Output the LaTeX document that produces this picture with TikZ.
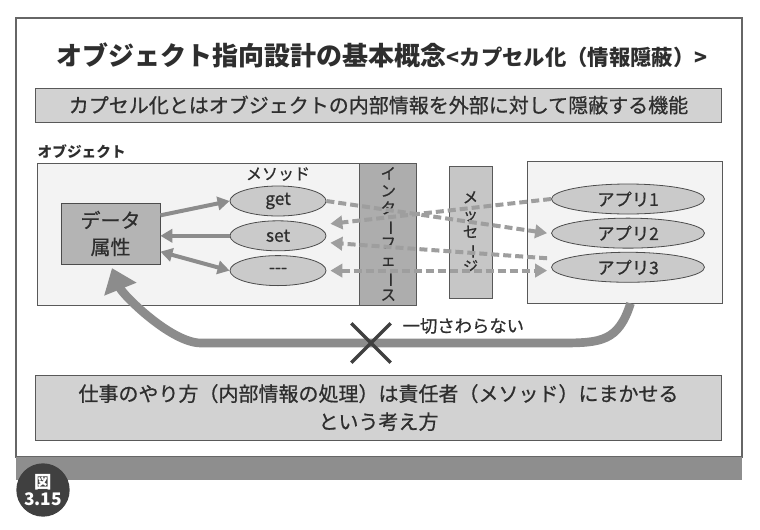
\documentclass[tikz,border=0pt]{standalone}
\usepackage{fontspec}
\setmainfont{Noto Sans CJK JP}
\newfontfamily\medium[FakeBold=0.7]{Noto Sans CJK JP}
\usepackage{xcolor}
\usepackage{tikz}
\usetikzlibrary{shapes,arrows.meta,positioning,calc}

\definecolor{linegray}{HTML}{8C8C8C}
\definecolor{dashgray}{HTML}{9E9E9E}
\definecolor{panelgray}{HTML}{D2D2D2}
\definecolor{datagray}{HTML}{B4B4B4}
\definecolor{ifacegray}{HTML}{ADADAD}
\definecolor{msggray}{HTML}{C6C6C6}
\definecolor{ovalgray}{HTML}{CACACA}
\definecolor{bggray}{HTML}{F3F3F3}
\definecolor{bandgray}{HTML}{8E8E8E}
\definecolor{badgegray}{HTML}{404040}
\definecolor{inkgray}{HTML}{2E2E2E}

\newcommand{\vbar}{\rotatebox[origin=c]{-90}{ー}}

\begin{document}
\begin{tikzpicture}[x=0.75pt, y=-0.75pt, >={Triangle[length=9pt,width=10pt]}, text=inkgray]
    % Styles
    \tikzstyle{panel} = [rectangle, draw=black!65, line width=0.6pt, fill=panelgray, minimum width=515pt, text centered]
    \tikzstyle{area} = [rectangle, draw=black!65, line width=0.6pt, fill=bggray, minimum height=106.5pt, inner sep=0pt]
    \tikzstyle{bar} = [rectangle, draw=black!65, line width=0.6pt, align=center, font=\medium\fontsize{11.5}{13}\selectfont, inner sep=0pt]
    \tikzstyle{oval} = [ellipse, draw=black!70, line width=0.6pt, fill=ovalgray, minimum height=22.5pt, inner sep=0pt, font=\medium\fontsize{13}{15}\selectfont]
    \tikzstyle{line} = [draw=linegray, line width=3pt, ->]
    \tikzstyle{msgline} = [draw=dashgray, line width=3pt, dash pattern=on 6pt off 3pt, ->]

    \useasboundingbox (0,0) rectangle (760,529);

    % Frame
    \draw [black!60, line width=0.8pt, fill=white] (16,18) rectangle (742,457);
    \fill [bandgray] (16,457) rectangle (742,480);
    \node [circle, fill=badgegray, minimum size=40pt, inner sep=0pt, text=white, align=center, font=\fontsize{13}{13}\selectfont\bfseries] (badge) at (43,490) {図\\3.15};

    % Nodes
    \node (title) at (382,55) {{\fontsize{19.5}{24}\selectfont\bfseries オブジェクト指向設計の基本概念}{\fontsize{16}{18}\selectfont\bfseries <カプセル化（情報隠蔽）>}};
    \node [panel, minimum height=25.5pt, font=\medium\fontsize{15}{18}\selectfont] (sub) at (378.5,105) {カプセル化とはオブジェクトの内部情報を外部に対して隠蔽する機能};
    \node [anchor=west, font=\fontsize{11}{13}\selectfont\bfseries] (objlabel) at (33,152) {オブジェクト};

    \node [area, minimum width=241.5pt] (obj) at (198,234) {};
    \node [bar, right=0pt of obj, fill=ifacegray, minimum width=42.75pt, minimum height=106.5pt] (iface) {イ\\ン\\タ\\\vbar\\フ\\ェ\\\vbar\\ス};
    \node [bar, fill=msggray, minimum width=32.25pt, minimum height=99pt] (msg) at (470.5,232) {メ\\ッ\\セ\\\vbar\\ジ};
    \node [area, minimum width=146.25pt] (apps) at (624.5,232) {};

    \node [rectangle, draw=black!70, line width=0.6pt, fill=datagray, minimum width=74.25pt, minimum height=45.75pt, align=center, font=\medium\fontsize{15}{20}\selectfont] (data) at (110.5,233.5) {データ\\属性};
    \node [oval, minimum width=72pt] (get) at (278,201) {get};
    \node [oval, minimum width=72pt, below=3pt of get] (set) {set};
    \node [oval, minimum width=72pt, below=3pt of set] (dots) {-{}-{}-};
    \node [above=0pt of get, font=\medium\fontsize{12}{14}\selectfont] (methods) {メソッド};

    \node [oval, minimum width=114.75pt] (app1) at (628,199) {アプリ1};
    \node [oval, minimum width=114.75pt, below=2.5pt of app1] (app2) {アプリ2};
    \node [oval, minimum width=114.75pt, below=2.5pt of app2] (app3) {アプリ3};

    \node [panel, minimum height=48.75pt, align=center, font=\medium\fontsize{15}{21}\selectfont] (rule) at (378.5,407.5) {仕事のやり方（内部情報の処理）は責任者（メソッド）にまかせる\\という考え方};

    \coordinate (cut) at (371,343);
    \node [anchor=west, font=\medium\fontsize{13}{15}\selectfont] (never) at (398,326) {一切さわらない};

    % Paths
    \path [line] (data.20) -- (get.west);
    \path [line] (set.west) -- (data.east |- set.west);
    \path [line, <->] (data.-20) -- (dots.west);

    \path [msgline] (get.east) -- ($(app2.west)+(-4,0)$);
    \path [msgline] (app1.west) -- ($(set.east)+(4,-12)$);
    \path [msgline] ($(app3.west)+(-4,-9)$) -- ($(set.east)+(4,7)$);
    \path [msgline, <->] ($(dots.east)+(4,0)$) -- ($(dots.east -| app3.west)+(-4,0)$);

    \path [draw=linegray, line width=6.5pt, -{Triangle[length=17pt,width=25pt]}, shorten >=3pt]
        ($(apps.south)+(6,0)$) .. controls +(-12,38) and +(40,0) .. ($(cut)+(190,0)$)
        -- ($(cut)+(-170,0)$) .. controls +(-30,0) and +(12,30) .. (data.south);
    \node [cross out, draw=black!75, line width=2.6pt, minimum size=27pt] (ng) at (cut) {};
\end{tikzpicture}
\end{document}
